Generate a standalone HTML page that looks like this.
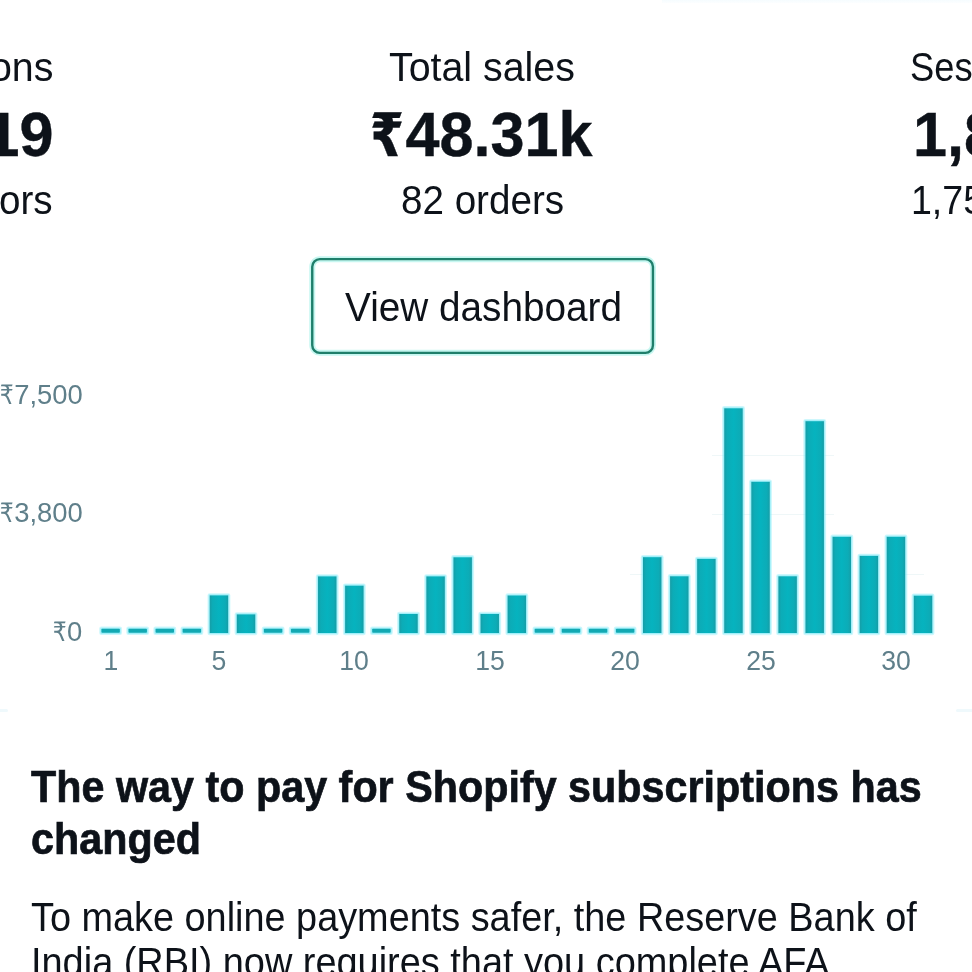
<!DOCTYPE html>
<html lang="en">
<head>
<meta charset="utf-8">
<title>Shopify home</title>
<style>
html,body{margin:0;padding:0;background:#fff;}
body{width:972px;height:972px;position:relative;overflow:hidden;font-family:"Liberation Sans", "DejaVu Sans", sans-serif;color:#0d1219;}
.t{position:absolute;white-space:nowrap;margin:0;padding:0;display:block;}
.l{transform-origin:0 0;}
.rt{transform-origin:100% 0;}
.xl{transform-origin:50% 0;}
.r{font-family:"DejaVu Sans",sans-serif;display:inline-block;transform:scaleX(.84);transform-origin:0 50%;margin-right:-.085em;}
.g{position:absolute;height:1px;background:#eff7f8;}
.mk{position:absolute;height:3px;background:#eff9fc;border-radius:2px;}
</style>
</head>
<body>

<div class="mk" style="left:662px;top:-1px;width:320px;height:4px;border-radius:0;background:linear-gradient(#f3fbfe,#fcfeff)"></div>
<div class="mk" style="left:-4px;top:709px;width:12px"></div>
<div class="mk" style="left:956px;top:709px;width:20px"></div>
<svg style="position:absolute;left:0;top:0" width="972" height="972" viewBox="0 0 972 972"><rect x="312.25" y="259.15" width="340.7" height="93.7" rx="7.6" fill="none" stroke="#b4f4ec" stroke-opacity=".75" stroke-width="6"/><rect x="312.25" y="259.15" width="340.7" height="93.7" rx="7.6" fill="none" stroke="#1f7f6b" stroke-width="2.4"/></svg>
<div class="g" style="top:454.6px;left:712.0px;width:122.0px"></div>
<div class="g" style="top:514.2px;left:712.0px;width:122.0px"></div>
<div class="g" style="top:573.8px;left:630.0px;width:18.0px"></div>
<div class="g" style="top:573.8px;left:898.0px;width:26.0px"></div>
<svg style="position:absolute;left:0;top:0" width="972" height="972" viewBox="0 0 972 972">
<defs><linearGradient id="bg" x1="0" y1="0" x2="1" y2="0"><stop offset="0" stop-color="#169da6"/><stop offset=".16" stop-color="#0cacb7"/><stop offset=".5" stop-color="#06b3bf"/><stop offset=".84" stop-color="#0cacb7"/><stop offset="1" stop-color="#169da6"/></linearGradient></defs>
<rect x="99.20" y="626.60" width="22.85" height="8.40" rx="2.2" fill="#7eeaf6" fill-opacity=".38"/>
<rect x="100.30" y="627.70" width="20.65" height="6.20" rx="1.1" fill="#7eeaf6" fill-opacity=".55"/>
<rect x="126.28" y="626.60" width="22.85" height="8.40" rx="2.2" fill="#7eeaf6" fill-opacity=".38"/>
<rect x="127.38" y="627.70" width="20.65" height="6.20" rx="1.1" fill="#7eeaf6" fill-opacity=".55"/>
<rect x="153.36" y="626.60" width="22.85" height="8.40" rx="2.2" fill="#7eeaf6" fill-opacity=".38"/>
<rect x="154.46" y="627.70" width="20.65" height="6.20" rx="1.1" fill="#7eeaf6" fill-opacity=".55"/>
<rect x="180.44" y="626.60" width="22.85" height="8.40" rx="2.2" fill="#7eeaf6" fill-opacity=".38"/>
<rect x="181.54" y="627.70" width="20.65" height="6.20" rx="1.1" fill="#7eeaf6" fill-opacity=".55"/>
<rect x="207.52" y="593.20" width="22.85" height="42.00" rx="2.2" fill="#7eeaf6" fill-opacity=".38"/>
<rect x="208.62" y="594.30" width="20.65" height="39.80" rx="1.1" fill="#7eeaf6" fill-opacity=".55"/>
<rect x="234.60" y="612.20" width="22.85" height="23.00" rx="2.2" fill="#7eeaf6" fill-opacity=".38"/>
<rect x="235.70" y="613.30" width="20.65" height="20.80" rx="1.1" fill="#7eeaf6" fill-opacity=".55"/>
<rect x="261.68" y="626.60" width="22.85" height="8.40" rx="2.2" fill="#7eeaf6" fill-opacity=".38"/>
<rect x="262.78" y="627.70" width="20.65" height="6.20" rx="1.1" fill="#7eeaf6" fill-opacity=".55"/>
<rect x="288.76" y="626.60" width="22.85" height="8.40" rx="2.2" fill="#7eeaf6" fill-opacity=".38"/>
<rect x="289.86" y="627.70" width="20.65" height="6.20" rx="1.1" fill="#7eeaf6" fill-opacity=".55"/>
<rect x="315.84" y="574.20" width="22.85" height="61.00" rx="2.2" fill="#7eeaf6" fill-opacity=".38"/>
<rect x="316.94" y="575.30" width="20.65" height="58.80" rx="1.1" fill="#7eeaf6" fill-opacity=".55"/>
<rect x="342.92" y="583.50" width="22.85" height="51.70" rx="2.2" fill="#7eeaf6" fill-opacity=".38"/>
<rect x="344.02" y="584.60" width="20.65" height="49.50" rx="1.1" fill="#7eeaf6" fill-opacity=".55"/>
<rect x="370.00" y="626.60" width="22.85" height="8.40" rx="2.2" fill="#7eeaf6" fill-opacity=".38"/>
<rect x="371.10" y="627.70" width="20.65" height="6.20" rx="1.1" fill="#7eeaf6" fill-opacity=".55"/>
<rect x="397.08" y="611.80" width="22.85" height="23.40" rx="2.2" fill="#7eeaf6" fill-opacity=".38"/>
<rect x="398.18" y="612.90" width="20.65" height="21.20" rx="1.1" fill="#7eeaf6" fill-opacity=".55"/>
<rect x="424.16" y="574.20" width="22.85" height="61.00" rx="2.2" fill="#7eeaf6" fill-opacity=".38"/>
<rect x="425.26" y="575.30" width="20.65" height="58.80" rx="1.1" fill="#7eeaf6" fill-opacity=".55"/>
<rect x="451.24" y="555.10" width="22.85" height="80.10" rx="2.2" fill="#7eeaf6" fill-opacity=".38"/>
<rect x="452.34" y="556.20" width="20.65" height="77.90" rx="1.1" fill="#7eeaf6" fill-opacity=".55"/>
<rect x="478.32" y="611.80" width="22.85" height="23.40" rx="2.2" fill="#7eeaf6" fill-opacity=".38"/>
<rect x="479.42" y="612.90" width="20.65" height="21.20" rx="1.1" fill="#7eeaf6" fill-opacity=".55"/>
<rect x="505.40" y="593.30" width="22.85" height="41.90" rx="2.2" fill="#7eeaf6" fill-opacity=".38"/>
<rect x="506.50" y="594.40" width="20.65" height="39.70" rx="1.1" fill="#7eeaf6" fill-opacity=".55"/>
<rect x="532.48" y="626.60" width="22.85" height="8.40" rx="2.2" fill="#7eeaf6" fill-opacity=".38"/>
<rect x="533.58" y="627.70" width="20.65" height="6.20" rx="1.1" fill="#7eeaf6" fill-opacity=".55"/>
<rect x="559.56" y="626.60" width="22.85" height="8.40" rx="2.2" fill="#7eeaf6" fill-opacity=".38"/>
<rect x="560.66" y="627.70" width="20.65" height="6.20" rx="1.1" fill="#7eeaf6" fill-opacity=".55"/>
<rect x="586.64" y="626.60" width="22.85" height="8.40" rx="2.2" fill="#7eeaf6" fill-opacity=".38"/>
<rect x="587.74" y="627.70" width="20.65" height="6.20" rx="1.1" fill="#7eeaf6" fill-opacity=".55"/>
<rect x="613.72" y="626.60" width="22.85" height="8.40" rx="2.2" fill="#7eeaf6" fill-opacity=".38"/>
<rect x="614.82" y="627.70" width="20.65" height="6.20" rx="1.1" fill="#7eeaf6" fill-opacity=".55"/>
<rect x="640.80" y="555.00" width="22.85" height="80.20" rx="2.2" fill="#7eeaf6" fill-opacity=".38"/>
<rect x="641.90" y="556.10" width="20.65" height="78.00" rx="1.1" fill="#7eeaf6" fill-opacity=".55"/>
<rect x="667.88" y="574.10" width="22.85" height="61.10" rx="2.2" fill="#7eeaf6" fill-opacity=".38"/>
<rect x="668.98" y="575.20" width="20.65" height="58.90" rx="1.1" fill="#7eeaf6" fill-opacity=".55"/>
<rect x="694.96" y="556.70" width="22.85" height="78.50" rx="2.2" fill="#7eeaf6" fill-opacity=".38"/>
<rect x="696.06" y="557.80" width="20.65" height="76.30" rx="1.1" fill="#7eeaf6" fill-opacity=".55"/>
<rect x="722.04" y="406.10" width="22.85" height="229.10" rx="2.2" fill="#7eeaf6" fill-opacity=".38"/>
<rect x="723.14" y="407.20" width="20.65" height="226.90" rx="1.1" fill="#7eeaf6" fill-opacity=".55"/>
<rect x="749.12" y="479.60" width="22.85" height="155.60" rx="2.2" fill="#7eeaf6" fill-opacity=".38"/>
<rect x="750.22" y="480.70" width="20.65" height="153.40" rx="1.1" fill="#7eeaf6" fill-opacity=".55"/>
<rect x="776.20" y="574.10" width="22.85" height="61.10" rx="2.2" fill="#7eeaf6" fill-opacity=".38"/>
<rect x="777.30" y="575.20" width="20.65" height="58.90" rx="1.1" fill="#7eeaf6" fill-opacity=".55"/>
<rect x="803.28" y="419.00" width="22.85" height="216.20" rx="2.2" fill="#7eeaf6" fill-opacity=".38"/>
<rect x="804.38" y="420.10" width="20.65" height="214.00" rx="1.1" fill="#7eeaf6" fill-opacity=".55"/>
<rect x="830.36" y="534.60" width="22.85" height="100.60" rx="2.2" fill="#7eeaf6" fill-opacity=".38"/>
<rect x="831.46" y="535.70" width="20.65" height="98.40" rx="1.1" fill="#7eeaf6" fill-opacity=".55"/>
<rect x="857.44" y="553.70" width="22.85" height="81.50" rx="2.2" fill="#7eeaf6" fill-opacity=".38"/>
<rect x="858.54" y="554.80" width="20.65" height="79.30" rx="1.1" fill="#7eeaf6" fill-opacity=".55"/>
<rect x="884.52" y="534.60" width="22.85" height="100.60" rx="2.2" fill="#7eeaf6" fill-opacity=".38"/>
<rect x="885.62" y="535.70" width="20.65" height="98.40" rx="1.1" fill="#7eeaf6" fill-opacity=".55"/>
<rect x="911.60" y="593.50" width="22.85" height="41.70" rx="2.2" fill="#7eeaf6" fill-opacity=".38"/>
<rect x="912.70" y="594.60" width="20.65" height="39.50" rx="1.1" fill="#7eeaf6" fill-opacity=".55"/>
<rect x="101.40" y="628.80" width="18.45" height="4.00" rx=".8" fill="#12a9b3"/>
<rect x="128.48" y="628.80" width="18.45" height="4.00" rx=".8" fill="#12a9b3"/>
<rect x="155.56" y="628.80" width="18.45" height="4.00" rx=".8" fill="#12a9b3"/>
<rect x="182.64" y="628.80" width="18.45" height="4.00" rx=".8" fill="#12a9b3"/>
<rect x="209.72" y="595.40" width="18.45" height="37.60" fill="url(#bg)"/>
<rect x="236.80" y="614.40" width="18.45" height="18.60" fill="url(#bg)"/>
<rect x="263.88" y="628.80" width="18.45" height="4.00" rx=".8" fill="#12a9b3"/>
<rect x="290.96" y="628.80" width="18.45" height="4.00" rx=".8" fill="#12a9b3"/>
<rect x="318.04" y="576.40" width="18.45" height="56.60" fill="url(#bg)"/>
<rect x="345.12" y="585.70" width="18.45" height="47.30" fill="url(#bg)"/>
<rect x="372.20" y="628.80" width="18.45" height="4.00" rx=".8" fill="#12a9b3"/>
<rect x="399.28" y="614.00" width="18.45" height="19.00" fill="url(#bg)"/>
<rect x="426.36" y="576.40" width="18.45" height="56.60" fill="url(#bg)"/>
<rect x="453.44" y="557.30" width="18.45" height="75.70" fill="url(#bg)"/>
<rect x="480.52" y="614.00" width="18.45" height="19.00" fill="url(#bg)"/>
<rect x="507.60" y="595.50" width="18.45" height="37.50" fill="url(#bg)"/>
<rect x="534.68" y="628.80" width="18.45" height="4.00" rx=".8" fill="#12a9b3"/>
<rect x="561.76" y="628.80" width="18.45" height="4.00" rx=".8" fill="#12a9b3"/>
<rect x="588.84" y="628.80" width="18.45" height="4.00" rx=".8" fill="#12a9b3"/>
<rect x="615.92" y="628.80" width="18.45" height="4.00" rx=".8" fill="#12a9b3"/>
<rect x="643.00" y="557.20" width="18.45" height="75.80" fill="url(#bg)"/>
<rect x="670.08" y="576.30" width="18.45" height="56.70" fill="url(#bg)"/>
<rect x="697.16" y="558.90" width="18.45" height="74.10" fill="url(#bg)"/>
<rect x="724.24" y="408.30" width="18.45" height="224.70" fill="url(#bg)"/>
<rect x="751.32" y="481.80" width="18.45" height="151.20" fill="url(#bg)"/>
<rect x="778.40" y="576.30" width="18.45" height="56.70" fill="url(#bg)"/>
<rect x="805.48" y="421.20" width="18.45" height="211.80" fill="url(#bg)"/>
<rect x="832.56" y="536.80" width="18.45" height="96.20" fill="url(#bg)"/>
<rect x="859.64" y="555.90" width="18.45" height="77.10" fill="url(#bg)"/>
<rect x="886.72" y="536.80" width="18.45" height="96.20" fill="url(#bg)"/>
<rect x="913.80" y="595.70" width="18.45" height="37.30" fill="url(#bg)"/>
</svg>
<div class="t l" style="left:389.00px;top:45.34px;font-size:40px;line-height:45.96px;font-weight:400;color:#0d1219;transform:scaleX(0.9835)">Total sales</div>
<div class="t l" style="left:370.30px;top:97.87px;font-size:63.3px;line-height:72.73px;font-weight:700;color:#0d1219;transform:scaleX(0.9658);-webkit-text-stroke:0.4px #0d1219"><span class="r" style="font-size:0.95em">₹</span>48.31k</div>
<div class="t l" style="left:401.00px;top:178.34px;font-size:40px;line-height:45.96px;font-weight:400;color:#0d1219;transform:scaleX(0.9648)">82 orders</div>
<div class="t rt" style="right:918.70px;top:45.34px;font-size:40px;line-height:45.96px;font-weight:400;color:#0d1219;transform:scaleX(0.9835)">Sessions</div>
<div class="t rt" style="right:918.30px;top:97.87px;font-size:63.3px;line-height:72.73px;font-weight:700;color:#0d1219;transform:scaleX(0.9658);-webkit-text-stroke:0.4px #0d1219">1,819</div>
<div class="t rt" style="right:919.00px;top:178.34px;font-size:40px;line-height:45.96px;font-weight:400;color:#0d1219;transform:scaleX(0.9648)">1,751 visitors</div>
<div class="t l" style="left:910.40px;top:45.34px;font-size:40px;line-height:45.96px;font-weight:400;color:#0d1219;transform:scaleX(0.9085)">Sessions</div>
<div class="t l" style="left:912.50px;top:97.87px;font-size:63.3px;line-height:72.73px;font-weight:700;color:#0d1219;transform:scaleX(0.9658);-webkit-text-stroke:0.4px #0d1219">1,819</div>
<div class="t l" style="left:911.00px;top:178.34px;font-size:40px;line-height:45.96px;font-weight:400;color:#0d1219;transform:scaleX(0.9381)">1,751 visitors</div>
<div class="t l" style="left:344.75px;top:285.34px;font-size:40px;line-height:45.96px;font-weight:400;color:#0d1219;transform:scaleX(0.968)">View dashboard</div>
<div class="t rt" style="right:889.35px;top:379.40px;font-size:28px;line-height:32.17px;font-weight:400;color:#5f7f8a;transform:scaleX(0.979)"><span class="r" style="font-size:0.95em">₹</span>7,500</div>
<div class="t rt" style="right:889.35px;top:497.40px;font-size:28px;line-height:32.17px;font-weight:400;color:#5f7f8a;transform:scaleX(0.979)"><span class="r" style="font-size:0.95em">₹</span>3,800</div>
<div class="t rt" style="right:889.35px;top:616.40px;font-size:28px;line-height:32.17px;font-weight:400;color:#5f7f8a;transform:scaleX(0.979)"><span class="r" style="font-size:0.95em">₹</span>0</div>
<div class="t l" style="left:31.10px;top:760.92px;font-size:44.8px;line-height:51.48px;font-weight:700;color:#0d1219;transform:scaleX(0.9222);-webkit-text-stroke:0.7px #0d1219">The way to pay for Shopify subscriptions has</div>
<div class="t l" style="left:31.10px;top:812.92px;font-size:44.8px;line-height:51.48px;font-weight:700;color:#0d1219;transform:scaleX(0.9222);-webkit-text-stroke:0.7px #0d1219">changed</div>
<div class="t l" style="left:31.00px;top:895.34px;font-size:40px;line-height:45.96px;font-weight:400;color:#0d1219;transform:scaleX(0.9462)">To make online payments safer, the Reserve Bank of</div>
<div class="t l" style="left:31.00px;top:940.34px;font-size:40px;line-height:45.96px;font-weight:400;color:#0d1219;transform:scaleX(0.9478)">India (RBI) now requires that you complete AFA</div>
<span class="t xl" style="left:110.62px;top:645.40px;font-size:28px;line-height:32.172px;color:#5f7f8a;transform:translateX(-50%) scaleX(0.95)">1</span>
<span class="t xl" style="left:218.94px;top:645.40px;font-size:28px;line-height:32.172px;color:#5f7f8a;transform:translateX(-50%) scaleX(0.95)">5</span>
<span class="t xl" style="left:354.34px;top:645.40px;font-size:28px;line-height:32.172px;color:#5f7f8a;transform:translateX(-50%) scaleX(0.95)">10</span>
<span class="t xl" style="left:489.75px;top:645.40px;font-size:28px;line-height:32.172px;color:#5f7f8a;transform:translateX(-50%) scaleX(0.95)">15</span>
<span class="t xl" style="left:625.14px;top:645.40px;font-size:28px;line-height:32.172px;color:#5f7f8a;transform:translateX(-50%) scaleX(0.95)">20</span>
<span class="t xl" style="left:760.54px;top:645.40px;font-size:28px;line-height:32.172px;color:#5f7f8a;transform:translateX(-50%) scaleX(0.95)">25</span>
<span class="t xl" style="left:895.94px;top:645.40px;font-size:28px;line-height:32.172px;color:#5f7f8a;transform:translateX(-50%) scaleX(0.95)">30</span>
</body>
</html>
